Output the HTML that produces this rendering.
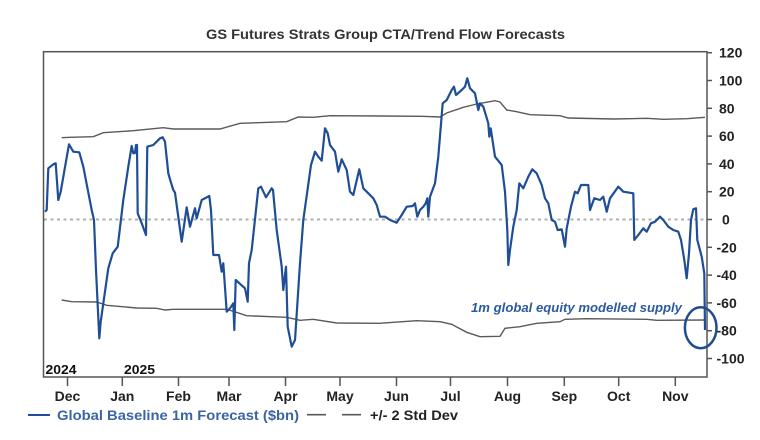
<!DOCTYPE html>
<html>
<head>
<meta charset="utf-8">
<style>
  html, body { margin: 0; padding: 0; background: #ffffff; }
  body { width: 760px; height: 440px; overflow: hidden; }
  svg { display: block; }
  text { font-family: "Liberation Sans", Arial, sans-serif; }
</style>
</head>
<body>
<svg width="760" height="440" viewBox="0 0 760 440" xmlns="http://www.w3.org/2000/svg">
  <rect x="0" y="0" width="760" height="440" fill="#ffffff"/>

  <!-- Title -->
  <text x="206" y="39" font-size="14" font-weight="bold" fill="#333333" textLength="359" lengthAdjust="spacingAndGlyphs">GS Futures Strats Group CTA/Trend Flow Forecasts</text>

  <!-- Zero line (dotted) -->
  <line x1="44" y1="219.5" x2="706" y2="219.5" stroke="#b0b0b0" stroke-width="2" stroke-dasharray="3,3.5"/>

  <!-- Std dev bands -->
  <polyline fill="none" stroke="#5a5a5a" stroke-width="1.4" points="61.7,137.7 70,137.3 93.3,136.7 103.3,132.7 133.3,130.7 163.3,127.7 173.3,129 220,129 240,123.3 286.7,121.7 298.3,117 313.3,117.3 330,115.7 380,116 421.7,116.3 440,117 446.7,113 463.3,107.3 476.7,104 495,100.7 500,102 506.7,110 516.7,111.7 530,114.7 560,115.7 568.3,118 613.3,119 646.7,118.3 663.3,119.3 686.7,118.7 705,117.3"/>
  <polyline fill="none" stroke="#5a5a5a" stroke-width="1.4" points="61.7,300 71.7,301.7 96.7,302 106.7,305.3 136.7,308 156.7,308.3 165,310 173.3,309.3 226.7,309.3 233.3,311.3 246.7,315.7 286.7,317.3 300,320.3 313.3,319.3 336.7,323 380,323.3 416.7,320.7 440,321.7 451.7,324.3 466.7,332.3 480,336.7 500,336.3 505,328.3 520,326.7 536.7,323.3 560,321.7 565,319.3 586.7,318.7 646.7,319.3 656.7,320.3 705,320"/>

  <!-- Main blue series -->
  <polyline fill="none" stroke="#1f4e96" stroke-width="2.2" stroke-linejoin="round" points="45,211.7 46.7,210 48.3,168.3 53.3,164.3 55.7,163.3 58.3,200 60.7,191.7 69,144.3 73.3,151.7 79.3,152.3 83.3,166.7 91.7,210 94,220 96,270 99.3,338.3 100.7,321.7 108.3,268.3 112.7,253.3 117.7,246.7 123.3,200 128.3,166.7 131.7,146 133.3,153.3 135,153 136,145 137,145 137.7,213.3 141.7,223.3 146,235 147.3,146.7 153.3,145 160,138.3 162.7,137.3 165,141.7 168.3,173.3 170.7,181.7 173.3,190 175,192.7 181.7,241.7 186.7,207.3 190,226.7 195,208.3 196.7,218.3 201.7,200 209.3,196 211,210 213.3,255 219,255 221.7,271.7 223.3,263.3 226.7,311.7 230,308.3 233.3,303.3 234.3,330 235.7,280 245,288.3 247.7,301.7 249,263.3 251.7,250 258.3,188.3 261,186.7 266,197.3 271.7,188.3 273,190 276.7,230 281.7,266.7 283.3,290 286,266.7 287.7,326.7 291.7,346.7 295,340 300,263.3 303.3,220 311,165 315,151.7 318.3,156.7 321.7,160.7 325,128.3 327.7,133.3 330,145 335,151.7 338.3,171.7 341.7,159.3 346.7,170 350,191.7 353.3,195 359.3,169.3 363.3,188.3 373.3,198.3 376.7,205 380,216.7 385,216.7 390,220 396.7,222.7 401.7,215 406.7,206.7 412.7,206 415,203.3 417.3,216.7 420,210 423.3,206.7 425.7,203.3 427.3,198.3 428.3,216.7 430,196.7 435,183.3 438.3,156.7 442.7,103.3 446.7,100 451.7,90 454,86.7 456,95 461.7,90 465,86.7 467.3,78.3 470,88.3 475,93.3 478.3,110 480,103.3 483.3,106.7 488.3,123.3 489.3,136.7 490.7,128.3 495,156.7 501.7,165 505,191.7 507.3,230 508.3,265 510,250 513.3,226.7 516.7,210 519.3,183.3 523.3,188.3 528.3,176.7 532.3,169.3 536.7,173.3 541.7,185 545,198.3 548.3,203.3 551.7,220 555,221.7 557.7,230 561.7,229.3 565,246.7 566.7,228.3 571,206.7 575,191.7 577.7,193.3 581,185 588.3,185 590,210 594.3,198.3 600,200 603.3,196.7 606.7,211.7 610,198.3 618.3,186.7 623.3,191.7 633.3,193.3 634.3,240 638.3,235 643.3,228.3 646.7,231.7 651,223.3 655,221.7 660,216.7 663.3,220 668.3,226.7 673.3,230 678.3,231.7 681,240 684.3,260 686.7,278.3 689,253.3 691,220 693.3,209.3 696,208.3 697.3,240 701.7,256.7 704.3,273.3 705,330"/>

  <!-- Plot frame -->
  <rect x="43.5" y="51.7" width="663.5" height="325.3" fill="none" stroke="#555555" stroke-width="1.5"/>

  <!-- Right axis ticks -->
  <g stroke="#555555" stroke-width="1.5">
    <line x1="707" y1="52.7" x2="712" y2="52.7"/>
    <line x1="707" y1="80.5" x2="712" y2="80.5"/>
    <line x1="707" y1="108.3" x2="712" y2="108.3"/>
    <line x1="707" y1="136.1" x2="712" y2="136.1"/>
    <line x1="707" y1="163.9" x2="712" y2="163.9"/>
    <line x1="707" y1="191.7" x2="712" y2="191.7"/>
    <line x1="707" y1="219.5" x2="712" y2="219.5"/>
    <line x1="707" y1="247.3" x2="712" y2="247.3"/>
    <line x1="707" y1="275.1" x2="712" y2="275.1"/>
    <line x1="707" y1="302.9" x2="712" y2="302.9"/>
    <line x1="707" y1="330.7" x2="712" y2="330.7"/>
    <line x1="707" y1="358.5" x2="712" y2="358.5"/>
  </g>
  <g font-size="14" font-weight="bold" fill="#222222">
    <text x="719" y="57.7">120</text>
    <text x="719" y="85.5">100</text>
    <text x="719" y="113.3">80</text>
    <text x="719" y="141.1">60</text>
    <text x="719" y="168.9">40</text>
    <text x="719" y="196.7">20</text>
    <text x="722" y="224.5">0</text>
    <text x="716.5" y="252.3">-20</text>
    <text x="716.5" y="280.1">-40</text>
    <text x="716.5" y="307.9">-60</text>
    <text x="716.5" y="335.7">-80</text>
    <text x="716.5" y="363.5">-100</text>
  </g>

  <!-- Bottom ticks -->
  <g stroke="#555555" stroke-width="1.5">
    <line x1="67.5" y1="377" x2="67.5" y2="386"/>
    <line x1="122.3" y1="377" x2="122.3" y2="386"/>
    <line x1="178.5" y1="377" x2="178.5" y2="386"/>
    <line x1="229" y1="377" x2="229" y2="386"/>
    <line x1="285.5" y1="377" x2="285.5" y2="386"/>
    <line x1="340" y1="377" x2="340" y2="386"/>
    <line x1="396.5" y1="377" x2="396.5" y2="386"/>
    <line x1="450.5" y1="377" x2="450.5" y2="386"/>
    <line x1="507.5" y1="377" x2="507.5" y2="386"/>
    <line x1="564.3" y1="377" x2="564.3" y2="386"/>
    <line x1="618.7" y1="377" x2="618.7" y2="386"/>
    <line x1="675.3" y1="377" x2="675.3" y2="386"/>
  </g>
  <g font-size="14" font-weight="bold" fill="#222222" text-anchor="middle">
    <text x="67.5" y="401">Dec</text>
    <text x="122.3" y="401">Jan</text>
    <text x="178.5" y="401">Feb</text>
    <text x="229" y="401">Mar</text>
    <text x="285.5" y="401">Apr</text>
    <text x="340" y="401">May</text>
    <text x="396.5" y="401">Jun</text>
    <text x="450.5" y="401">Jul</text>
    <text x="507.5" y="401">Aug</text>
    <text x="564.3" y="401">Sep</text>
    <text x="618.7" y="401">Oct</text>
    <text x="675.3" y="401">Nov</text>
  </g>

  <!-- Year labels -->
  <g font-size="13" font-weight="bold" fill="#111111">
    <text x="45.5" y="374" textLength="31" lengthAdjust="spacingAndGlyphs">2024</text>
    <text x="124" y="374" textLength="31" lengthAdjust="spacingAndGlyphs">2025</text>
  </g>

  <!-- Annotation -->
  <text x="471" y="312" font-size="13" font-weight="bold" font-style="italic" fill="#2c5aa0" textLength="211" lengthAdjust="spacingAndGlyphs">1m global equity modelled supply</text>
  <ellipse cx="700.7" cy="327.7" rx="15.8" ry="20.5" fill="none" stroke="#1f4e8c" stroke-width="2.5"/>

  <!-- Legend -->
  <line x1="28" y1="415" x2="50" y2="415" stroke="#1f4e96" stroke-width="2"/>
  <text x="57" y="420" font-size="14" font-weight="bold" fill="#3b64a6" textLength="242" lengthAdjust="spacingAndGlyphs">Global Baseline 1m Forecast ($bn)</text>
  <line x1="307" y1="414.7" x2="326" y2="414.7" stroke="#5a5a5a" stroke-width="1.6"/>
  <line x1="342" y1="414.7" x2="361" y2="414.7" stroke="#5a5a5a" stroke-width="1.6"/>
  <text x="370" y="420" font-size="14" font-weight="bold" fill="#222222" textLength="88" lengthAdjust="spacingAndGlyphs">+/- 2 Std Dev</text>
</svg>
</body>
</html>
